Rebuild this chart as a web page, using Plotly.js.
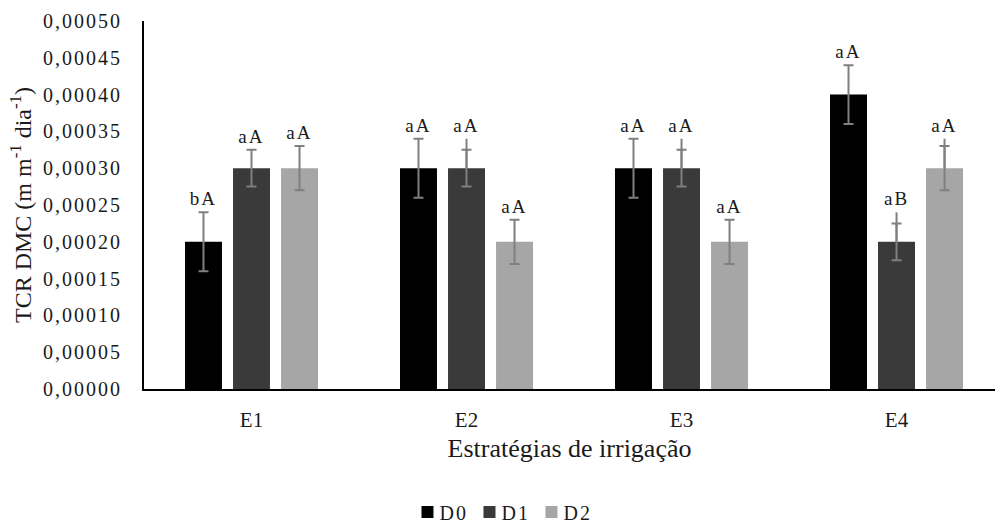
<!DOCTYPE html>
<html>
<head>
<meta charset="utf-8">
<script src="https://cdn.plot.ly/plotly-3.0.1.min.js"></script>
<style>
  html, body { margin: 0; padding: 0; background: #fff; }
  #chart { width: 995px; height: 522px; }
  #chart .ytick text { letter-spacing: 2px; }
  #chart .bartext { letter-spacing: 2px; }
  #chart .legendtext { letter-spacing: 2px; transform: translateX(-8px); }
</style>
</head>
<body>
<div id="chart"></div>
<script>
// ---- data ----
const categories = ['E1', 'E2', 'E3', 'E4'];
const seriesNames = ['D0', 'D1', 'D2'];
const D0 = [0.00020, 0.00030, 0.00030, 0.00040];
const D1 = [0.00030, 0.00030, 0.00030, 0.00020];
const D2 = [0.00030, 0.00020, 0.00020, 0.00030];
// capped (symmetric) error bars
const errD0 = [0.000040, 0.000040, 0.000040, 0.000040];
const errD1 = [0.000025, 0.000025, 0.000025, 0.000025];
const errD2 = [0.000030, 0.000030, 0.000030, 0.000030];
// additional uncapped upward error line
const extraD0 = [0, 0, 0, 0];
const extraD1 = [0, 0.000040, 0.000040, 0.000040];
const extraD2 = [0, 0, 0, 0.000040];
// letters of the mean comparison test
const lettersD0 = ['bA', 'aA', 'aA', 'aA'];
const lettersD1 = ['aA', 'aA', 'aA', 'aB'];
const lettersD2 = ['aA', 'aA', 'aA', 'aA'];
const yTickVals = [0, 0.00005, 0.0001, 0.00015, 0.0002, 0.00025, 0.0003, 0.00035, 0.0004, 0.00045, 0.0005];

const colors = ['#000000', '#3a3a3a', '#a6a6a6'];
const values = [D0, D1, D2];
const errs = [errD0, errD1, errD2];
const extras = [extraD0, extraD1, extraD2];
const letters = [lettersD0, lettersD1, lettersD2];
const FONT = 'Liberation Serif, Times New Roman, serif';
const TXT = '#1a1a1a';
const errColor = '#7f7f7f';

const traces = [];
// main bars
seriesNames.forEach((name, i) => {
  traces.push({
    type: 'bar', name: name, x: categories, y: values[i],
    offsetgroup: name,
    marker: { color: colors[i], line: { width: 0 } },
    error_y: { type: 'data', array: errs[i], visible: true, color: errColor, thickness: 2, width: 5 },
    hoverinfo: 'x+y+name'
  });
});
// uncapped extra lines
seriesNames.forEach((name, i) => {
  traces.push({
    type: 'bar', name: name + ' extra', x: categories, y: values[i],
    offsetgroup: name, showlegend: false, hoverinfo: 'skip',
    marker: { color: 'rgba(0,0,0,0)' },
    error_y: { type: 'data', symmetric: false, array: extras[i], arrayminus: extras[i].map(() => 0),
               visible: true, color: errColor, thickness: 2, width: 0 }
  });
});
// letter labels above the highest error line
seriesNames.forEach((name, i) => {
  const tops = values[i].map((v, k) => v + Math.max(errs[i][k], extras[i][k]));
  traces.push({
    type: 'bar', name: name + ' letters', x: categories, y: tops,
    offsetgroup: name, showlegend: false, hoverinfo: 'skip',
    marker: { color: 'rgba(0,0,0,0)' },
    text: letters[i], textposition: 'outside', constraintext: 'none', cliponaxis: false,
    outsidetextfont: { family: FONT, size: 19, color: TXT }
  });
});

const layout = {
  width: 995, height: 522,
  margin: { l: 144, r: 0, t: 21, b: 133 },
  paper_bgcolor: '#ffffff', plot_bgcolor: '#ffffff',
  barmode: 'group', bargap: 0.33, bargroupgap: 0.23,
  separators: ',.',
  font: { family: FONT, color: TXT },
  showlegend: true,
  legend: {
    orientation: 'h', xref: 'container', yref: 'container',
    x: 0.503, xanchor: 'center', y: 0.019, yanchor: 'middle',
    font: { family: FONT, size: 20, color: TXT },
    itemwidth: 30, entrywidth: 17
  },
  xaxis: {
    type: 'category', range: [-0.5, 3.458], fixedrange: true,
    showline: true, linecolor: '#000000', linewidth: 2,
    showgrid: false, zeroline: false, ticks: '',
    tickfont: { family: FONT, size: 21, color: TXT },
    ticklabelstandoff: 11,
    automargin: true,
    title: { text: 'Estratégias de irrigação', font: { family: FONT, size: 26, color: TXT }, standoff: 8 }
  },
  yaxis: {
    range: [0, 0.0005], fixedrange: true,
    tickvals: yTickVals, tickformat: '.5f',
    showline: true, linecolor: '#000000', linewidth: 2,
    showgrid: false, zeroline: false, ticks: '',
    tickfont: { family: FONT, size: 20, color: TXT },
    ticklabelstandoff: 16,
    automargin: true,
    title: { text: 'TCR DMC (m m<sup>-1</sup> dia<sup>-1</sup>)', font: { family: FONT, size: 24, color: TXT }, standoff: 19 }
  }
};

Plotly.newPlot('chart', traces, layout, { displayModeBar: false, staticPlot: true });
</script>
</body>
</html>
